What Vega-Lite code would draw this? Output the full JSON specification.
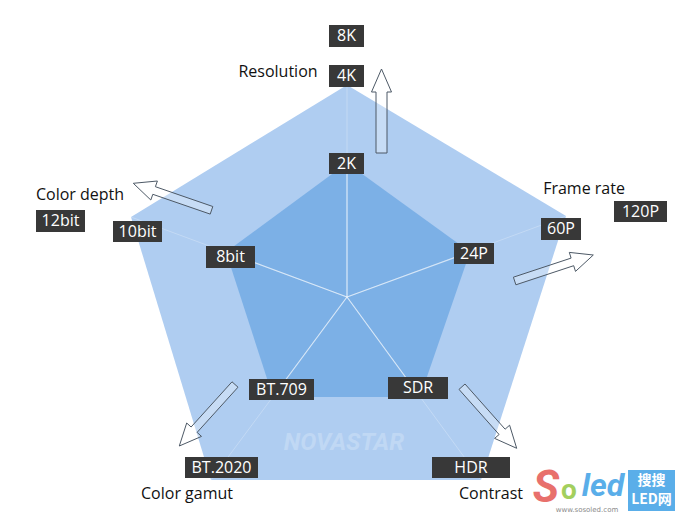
{
  "$schema": "https://vega.github.io/schema/vega-lite/v6.json",
  "width": 688,
  "height": 529,
  "autosize": {"type": "fit", "contains": "padding"},
  "padding": 0,
  "background": "#ffffff",
  "config": {"view": {"stroke": null}},
  "datasets": {
    "polys": [
      {"shape": "outer", "i": 0, "x": 347, "y": 85},
      {"shape": "outer", "i": 1, "x": 566, "y": 216},
      {"shape": "outer", "i": 2, "x": 481, "y": 480},
      {"shape": "outer", "i": 3, "x": 211, "y": 480},
      {"shape": "outer", "i": 4, "x": 131, "y": 217},
      {"shape": "inner", "i": 0, "x": 347, "y": 163},
      {"shape": "inner", "i": 1, "x": 470, "y": 252},
      {"shape": "inner", "i": 2, "x": 420, "y": 397},
      {"shape": "inner", "i": 3, "x": 273, "y": 397},
      {"shape": "inner", "i": 4, "x": 226, "y": 252}
    ],
    "spokes": [
      {"axis": "Resolution", "x": 347, "y": 297, "xo": 347, "yo": 85, "xi": 347, "yi": 163},
      {"axis": "Frame rate", "x": 347, "y": 297, "xo": 566, "yo": 216, "xi": 470, "yi": 252},
      {"axis": "Contrast", "x": 347, "y": 297, "xo": 481, "yo": 480, "xi": 420, "yi": 397},
      {"axis": "Color gamut", "x": 347, "y": 297, "xo": 211, "yo": 480, "xi": 273, "yi": 397},
      {"axis": "Color depth", "x": 347, "y": 297, "xo": 131, "yo": 217, "xi": 226, "yi": 252}
    ],
    "arrows": [
      {"arrow": "Resolution", "i": 0, "x": 376, "y": 153},
      {"arrow": "Resolution", "i": 1, "x": 376, "y": 92},
      {"arrow": "Resolution", "i": 2, "x": 371.5, "y": 92},
      {"arrow": "Resolution", "i": 3, "x": 381.5, "y": 69},
      {"arrow": "Resolution", "i": 4, "x": 391.5, "y": 92},
      {"arrow": "Resolution", "i": 5, "x": 387, "y": 92},
      {"arrow": "Resolution", "i": 6, "x": 387, "y": 153},
      {"arrow": "Color depth", "i": 0, "x": 212.8, "y": 206.5},
      {"arrow": "Color depth", "i": 1, "x": 155.4, "y": 186.7},
      {"arrow": "Color depth", "i": 2, "x": 157.4, "y": 181.0},
      {"arrow": "Color depth", "i": 3, "x": 133.3, "y": 183.3},
      {"arrow": "Color depth", "i": 4, "x": 150.8, "y": 200.0},
      {"arrow": "Color depth", "i": 5, "x": 152.8, "y": 194.3},
      {"arrow": "Color depth", "i": 6, "x": 210.2, "y": 214.1},
      {"arrow": "Frame rate", "i": 0, "x": 513.4, "y": 277.2},
      {"arrow": "Frame rate", "i": 1, "x": 571.1, "y": 258.1},
      {"arrow": "Frame rate", "i": 2, "x": 569.3, "y": 252.4},
      {"arrow": "Frame rate", "i": 3, "x": 593.3, "y": 255.0},
      {"arrow": "Frame rate", "i": 4, "x": 575.5, "y": 271.4},
      {"arrow": "Frame rate", "i": 5, "x": 573.7, "y": 265.7},
      {"arrow": "Frame rate", "i": 6, "x": 515.9, "y": 284.8},
      {"arrow": "Color gamut", "i": 0, "x": 232.0, "y": 381.8},
      {"arrow": "Color gamut", "i": 1, "x": 191.1, "y": 427.0},
      {"arrow": "Color gamut", "i": 2, "x": 186.7, "y": 423.0},
      {"arrow": "Color gamut", "i": 3, "x": 179.3, "y": 446.0},
      {"arrow": "Color gamut", "i": 4, "x": 201.5, "y": 436.4},
      {"arrow": "Color gamut", "i": 5, "x": 197.1, "y": 432.4},
      {"arrow": "Color gamut", "i": 6, "x": 238.0, "y": 387.2},
      {"arrow": "Contrast", "i": 0, "x": 465.0, "y": 384.0},
      {"arrow": "Contrast", "i": 1, "x": 505.1, "y": 429.2},
      {"arrow": "Contrast", "i": 2, "x": 509.6, "y": 425.2},
      {"arrow": "Contrast", "i": 3, "x": 516.7, "y": 448.3},
      {"arrow": "Contrast", "i": 4, "x": 494.6, "y": 438.4},
      {"arrow": "Contrast", "i": 5, "x": 499.1, "y": 434.5},
      {"arrow": "Contrast", "i": 6, "x": 459.0, "y": 389.4}
    ],
    "boxes": [
      {"label": "8K", "x1": 329, "x2": 364, "y1": 25, "y2": 47},
      {"label": "4K", "x1": 329, "x2": 364, "y1": 65, "y2": 87},
      {"label": "2K", "x1": 329, "x2": 364, "y1": 153, "y2": 174},
      {"label": "12bit", "x1": 36, "x2": 85, "y1": 210, "y2": 232},
      {"label": "10bit", "x1": 113, "x2": 162, "y1": 221, "y2": 242},
      {"label": "8bit", "x1": 206, "x2": 255, "y1": 246, "y2": 268},
      {"label": "24P", "x1": 454, "x2": 494, "y1": 243, "y2": 264},
      {"label": "60P", "x1": 541, "x2": 581, "y1": 218, "y2": 240},
      {"label": "120P", "x1": 614, "x2": 667, "y1": 201, "y2": 222},
      {"label": "BT.709", "x1": 249, "x2": 314, "y1": 379, "y2": 400},
      {"label": "BT.2020", "x1": 185, "x2": 258, "y1": 457, "y2": 478},
      {"label": "SDR", "x1": 388, "x2": 448, "y1": 377, "y2": 399},
      {"label": "HDR", "x1": 432, "x2": 510, "y1": 457, "y2": 478}
    ],
    "titles": [
      {"title": "Resolution", "x": 278, "y": 72},
      {"title": "Frame rate", "x": 584, "y": 189},
      {"title": "Color depth", "x": 80, "y": 195},
      {"title": "Color gamut", "x": 187, "y": 494},
      {"title": "Contrast", "x": 491, "y": 494}
    ]
  },
  "encoding": {
    "x": {"type": "quantitative", "scale": {"domain": [0, 688], "nice": false, "zero": false}, "axis": null},
    "y": {"type": "quantitative", "scale": {"domain": [0, 529], "nice": false, "zero": false, "reverse": true}, "axis": null}
  },
  "layer": [
    {
      "data": {"name": "polys"},
      "transform": [{"filter": "datum.shape == 'outer'"}],
      "mark": {"type": "line", "interpolate": "linear-closed", "fill": "#afcdf1", "stroke": null, "strokeWidth": 0},
      "encoding": {"x": {"field": "x", "type": "quantitative"}, "y": {"field": "y", "type": "quantitative"}, "order": {"field": "i", "type": "quantitative"}}
    },
    {
      "data": {"name": "polys"},
      "transform": [{"filter": "datum.shape == 'inner'"}],
      "mark": {"type": "line", "interpolate": "linear-closed", "fill": "#7cb0e6", "stroke": null, "strokeWidth": 0},
      "encoding": {"x": {"field": "x", "type": "quantitative"}, "y": {"field": "y", "type": "quantitative"}, "order": {"field": "i", "type": "quantitative"}}
    },
    {
      "data": {"name": "spokes"},
      "mark": {"type": "rule", "color": "#ffffff", "opacity": 0.25, "strokeWidth": 1},
      "encoding": {"x": {"field": "x", "type": "quantitative"}, "y": {"field": "y", "type": "quantitative"}, "x2": {"field": "xo"}, "y2": {"field": "yo"}}
    },
    {
      "data": {"name": "spokes"},
      "mark": {"type": "rule", "color": "#ffffff", "opacity": 0.6, "strokeWidth": 1.2},
      "encoding": {"x": {"field": "x", "type": "quantitative"}, "y": {"field": "y", "type": "quantitative"}, "x2": {"field": "xi"}, "y2": {"field": "yi"}}
    },
    {
      "data": {"values": [{"mark": "NOVASTAR", "x": 344, "y": 443}]},
      "mark": {"type": "text", "font": "Roboto", "fontSize": 24, "fontWeight": "bold", "fontStyle": "italic", "color": "#ffffff", "opacity": 0.22, "align": "center", "baseline": "middle"},
      "encoding": {"x": {"field": "x", "type": "quantitative"}, "y": {"field": "y", "type": "quantitative"}, "text": {"field": "mark"}}
    },
    {
      "data": {"name": "arrows"},
      "mark": {"type": "line", "interpolate": "linear-closed", "fill": "#ffffff", "fillOpacity": 0.3, "stroke": "#4d5966", "strokeWidth": 1},
      "encoding": {"x": {"field": "x", "type": "quantitative"}, "y": {"field": "y", "type": "quantitative"}, "order": {"field": "i", "type": "quantitative"}, "detail": {"field": "arrow"}}
    },
    {
      "data": {"name": "boxes"},
      "mark": {"type": "rect", "color": "#383838"},
      "encoding": {"x": {"field": "x1", "type": "quantitative"}, "x2": {"field": "x2"}, "y": {"field": "y1", "type": "quantitative"}, "y2": {"field": "y2"}}
    },
    {
      "data": {"name": "boxes"},
      "transform": [{"calculate": "(datum.x1 + datum.x2) / 2", "as": "cx"}, {"calculate": "(datum.y1 + datum.y2) / 2", "as": "cy"}],
      "mark": {"type": "text", "font": "Open Sans", "fontSize": 16, "color": "#ffffff", "align": "center", "baseline": "middle"},
      "encoding": {"x": {"field": "cx", "type": "quantitative"}, "y": {"field": "cy", "type": "quantitative"}, "text": {"field": "label"}}
    },
    {
      "data": {"name": "titles"},
      "mark": {"type": "text", "font": "Open Sans", "fontSize": 16, "color": "#111111", "align": "center", "baseline": "middle"},
      "encoding": {"x": {"field": "x", "type": "quantitative"}, "y": {"field": "y", "type": "quantitative"}, "text": {"field": "title"}}
    },
    {
      "data": {"values": [{"part": "logo box", "x1": 628, "x2": 675, "y1": 470, "y2": 511}]},
      "mark": {"type": "rect", "color": "#5aaee9"},
      "encoding": {"x": {"field": "x1", "type": "quantitative"}, "x2": {"field": "x2"}, "y": {"field": "y1", "type": "quantitative"}, "y2": {"field": "y2"}}
    },
    {
      "data": {"values": [{"t": "搜搜", "x": 651.5, "y": 481}, {"t": "LED网", "x": 651.5, "y": 500}]},
      "mark": {"type": "text", "font": "Noto Sans CJK SC", "fontSize": 14, "fontWeight": "bold", "color": "#ffffff", "align": "center", "baseline": "middle"},
      "encoding": {"x": {"field": "x", "type": "quantitative"}, "y": {"field": "y", "type": "quantitative"}, "text": {"field": "t"}}
    },
    {
      "data": {"values": [{"t": "S", "x": 546, "y": 489}]},
      "mark": {"type": "text", "font": "Roboto", "fontSize": 44, "fontWeight": "bold", "fontStyle": "italic", "color": "#e8706c", "align": "center", "baseline": "middle"},
      "encoding": {"x": {"field": "x", "type": "quantitative"}, "y": {"field": "y", "type": "quantitative"}, "text": {"field": "t"}}
    },
    {
      "data": {"values": [{"t": "o", "x": 569, "y": 491}]},
      "mark": {"type": "text", "font": "Roboto", "fontSize": 28, "fontWeight": "bold", "color": "#a3cf5e", "align": "center", "baseline": "middle"},
      "encoding": {"x": {"field": "x", "type": "quantitative"}, "y": {"field": "y", "type": "quantitative"}, "text": {"field": "t"}}
    },
    {
      "data": {"values": [{"t": "led", "x": 603, "y": 486}]},
      "mark": {"type": "text", "font": "Roboto", "fontSize": 32, "fontWeight": "bold", "fontStyle": "italic", "color": "#5aaee9", "align": "center", "baseline": "middle"},
      "encoding": {"x": {"field": "x", "type": "quantitative"}, "y": {"field": "y", "type": "quantitative"}, "text": {"field": "t"}}
    },
    {
      "data": {"values": [{"t": "www.sosoled.com", "x": 587, "y": 510}]},
      "mark": {"type": "text", "font": "DejaVu Sans", "fontSize": 7, "color": "#8a8a8a", "align": "center", "baseline": "middle"},
      "encoding": {"x": {"field": "x", "type": "quantitative"}, "y": {"field": "y", "type": "quantitative"}, "text": {"field": "t"}}
    }
  ]
}
